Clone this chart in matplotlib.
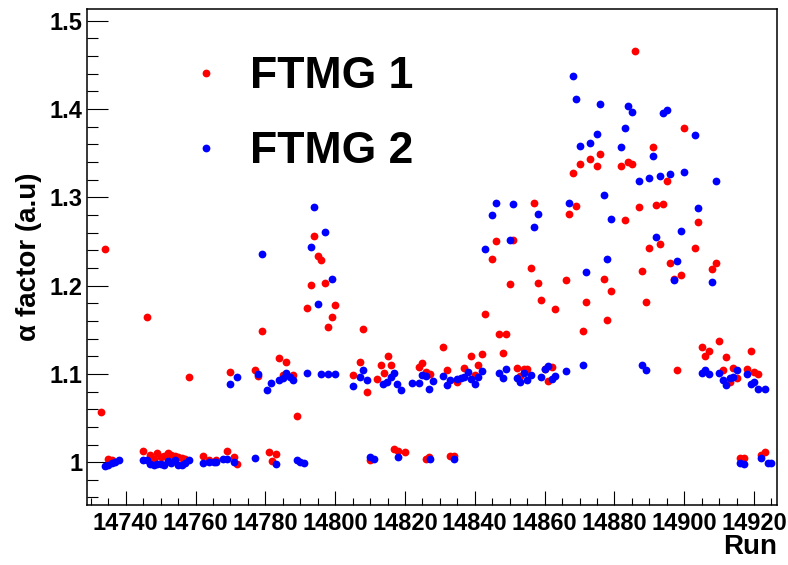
import matplotlib
matplotlib.use("Agg")
import matplotlib.pyplot as plt
from matplotlib.ticker import MultipleLocator, FormatStrFormatter, FuncFormatter

# ---- data ----
runs_ftmg1 = [14733, 14734, 14735, 14736, 14745, 14746, 14747, 14748, 14749, 14750,
              14751, 14752, 14753, 14754, 14755, 14756, 14757, 14758, 14762, 14764,
              14766, 14769, 14770, 14771, 14772, 14777, 14778, 14779, 14781, 14782,
              14783, 14784, 14785, 14786, 14788, 14789, 14792, 14793, 14794, 14795,
              14796, 14797, 14798, 14799, 14800, 14805, 14807, 14808, 14809, 14810,
              14812, 14813, 14814, 14815, 14816, 14817, 14818, 14820, 14824, 14825,
              14826, 14827.1, 14826.0, 14826.9, 14831, 14832, 14833, 14834, 14835, 14837,
              14839, 14840, 14841, 14842, 14843, 14845, 14846, 14847, 14848, 14849,
              14850, 14851, 14852, 14853, 14854, 14855, 14856, 14857, 14858, 14859,
              14860, 14861, 14862, 14863, 14866, 14867, 14868, 14869, 14870, 14871,
              14872, 14873, 14875, 14876, 14877, 14878, 14879, 14882, 14883, 14884,
              14885, 14886, 14887, 14888, 14889, 14890, 14891, 14892, 14893, 14894,
              14895, 14896, 14897, 14898, 14899, 14900, 14903, 14904, 14905, 14906,
              14907, 14908, 14909, 14910, 14911, 14912, 14913, 14914, 14915, 14916,
              14917, 14918, 14919, 14920, 14921, 14922, 14923]
alpha_ftmg1 = [1.057, 1.241, 1.004, 1.003, 1.013, 1.164, 1.008, 1.004, 1.010, 1.006,
               1.007, 1.010, 1.008, 1.007, 1.006, 1.005, 1.004, 1.096, 1.007, 1.003,
               1.003, 1.013, 1.102, 1.006, 0.998, 1.104, 1.098, 1.149, 1.012, 1.001,
               1.009, 1.118, 1.099, 1.113, 1.099, 1.052, 1.175, 1.201, 1.256, 1.234,
               1.229, 1.203, 1.153, 1.164, 1.178, 1.099, 1.113, 1.151, 1.079, 1.003,
               1.094, 1.110, 1.101, 1.120, 1.110, 1.015, 1.013, 1.011, 1.108, 1.112,
               1.102, 1.100, 1.004, 1.006, 1.131, 1.104, 1.007, 1.007, 1.091, 1.107,
               1.120, 1.099, 1.110, 1.123, 1.168, 1.230, 1.250, 1.145, 1.124, 1.145,
               1.202, 1.252, 1.107, 1.098, 1.106, 1.105, 1.220, 1.294, 1.203, 1.184,
               1.106, 1.092, 1.108, 1.174, 1.206, 1.281, 1.328, 1.290, 1.338, 1.149,
               1.182, 1.343, 1.336, 1.349, 1.208, 1.161, 1.194, 1.335, 1.274, 1.340,
               1.338, 1.466, 1.289, 1.217, 1.182, 1.243, 1.357, 1.291, 1.247, 1.292,
               1.318, 1.226, 1.208, 1.104, 1.212, 1.379, 1.243, 1.272, 1.130, 1.120,
               1.126, 1.219, 1.226, 1.137, 1.104, 1.119, 1.091, 1.107, 1.095, 1.005,
               1.005, 1.106, 1.126, 1.102, 1.100, 1.008, 1.012]

runs_ftmg2 = [14734, 14735, 14736, 14737, 14738, 14745, 14746, 14747, 14748, 14749,
              14750, 14751, 14752, 14753, 14754, 14755, 14756, 14757, 14758, 14762,
              14764, 14765.3, 14766, 14768, 14769, 14770, 14771, 14772, 14777, 14778,
              14779, 14780.5, 14781.6, 14783, 14784, 14785, 14786, 14787, 14788, 14789,
              14790, 14791, 14792, 14793, 14794, 14795, 14796, 14797, 14798, 14799,
              14800, 14805, 14807, 14808, 14809, 14810, 14811, 14813.8, 14814.8, 14816,
              14817, 14817.9, 14817.8, 14818.9, 14822, 14824, 14825, 14826, 14827, 14827.1,
              14828, 14831, 14832, 14833, 14834, 14835, 14836, 14837, 14838, 14839,
              14840, 14841, 14842, 14843, 14845, 14846, 14847, 14848, 14849, 14850,
              14851, 14852, 14853, 14854, 14855, 14856, 14857, 14858, 14859, 14860,
              14861, 14862, 14863, 14866, 14867, 14868, 14869, 14870, 14871, 14872,
              14873, 14875, 14876, 14877, 14878, 14879, 14882, 14883, 14884, 14885,
              14887, 14888, 14889, 14890, 14891, 14892, 14893, 14894, 14895, 14896,
              14897, 14898, 14899, 14900, 14903, 14904, 14905, 14906, 14907, 14908,
              14909, 14910, 14911, 14912, 14913, 14914, 14915, 14916, 14917, 14918,
              14919, 14920, 14921, 14922, 14923, 14924, 14925]
alpha_ftmg2 = [0.996, 0.997, 0.999, 1.000, 1.002, 1.003, 1.002, 0.998, 0.997, 0.998,
               0.998, 0.997, 1.001, 0.999, 1.002, 0.997, 0.997, 0.999, 1.003, 0.999,
               1.000, 1.000, 1.000, 1.004, 1.004, 1.089, 1.000, 1.097, 1.005, 1.100,
               1.236, 1.082, 1.090, 0.998, 1.093, 1.095, 1.101, 1.097, 1.093, 1.003,
               1.000, 0.999, 1.101, 1.244, 1.289, 1.179, 1.100, 1.261, 1.100, 1.207,
               1.100, 1.086, 1.097, 1.104, 1.093, 1.006, 1.004, 1.089, 1.091, 1.097,
               1.101, 1.006, 1.089, 1.082, 1.090, 1.090, 1.099, 1.098, 1.083, 1.004,
               1.092, 1.098, 1.087, 1.093, 1.004, 1.094, 1.095, 1.097, 1.102, 1.094,
               1.089, 1.097, 1.103, 1.242, 1.280, 1.294, 1.101, 1.095, 1.105, 1.252,
               1.292, 1.095, 1.091, 1.101, 1.093, 1.099, 1.266, 1.281, 1.096, 1.105,
               1.109, 1.094, 1.098, 1.103, 1.294, 1.437, 1.411, 1.358, 1.110, 1.215,
               1.362, 1.372, 1.406, 1.303, 1.230, 1.276, 1.357, 1.378, 1.403, 1.397,
               1.319, 1.110, 1.104, 1.322, 1.347, 1.255, 1.324, 1.396, 1.399, 1.326,
               1.206, 1.228, 1.262, 1.329, 1.371, 1.288, 1.101, 1.104, 1.100, 1.204,
               1.319, 1.101, 1.093, 1.087, 1.095, 1.096, 1.104, 0.999, 0.998, 1.100,
               1.089, 1.091, 1.083, 1.005, 1.083, 0.999, 0.999]

series_labels = ["FTMG 1", "FTMG 2"]
series_colors = ["#ff0000", "#0000ff"]
x_title = "Run"
y_title = "\u03b1 factor (a.u)"

# ---- figure ----
FONT = ["Liberation Sans", "DejaVu Sans"]
plt.rcParams["font.family"] = FONT

fig = plt.figure(figsize=(7.88, 5.65), dpi=100)
ax = fig.add_axes([0.1108, 0.1062, 0.8749, 0.8773])

h1, = ax.plot(runs_ftmg1, alpha_ftmg1, linestyle="none", marker="o", ms=5.6,
              mec="none", color=series_colors[0], label=series_labels[0])
h2, = ax.plot(runs_ftmg2, alpha_ftmg2, linestyle="none", marker="o", ms=5.6,
              mec="none", color=series_colors[1], label=series_labels[1])

ax.set_xlim(14729.0, 14926.5)
ax.set_ylim(0.9515, 1.513)

ax.xaxis.set_major_locator(MultipleLocator(20))
ax.xaxis.set_minor_locator(MultipleLocator(5))
ax.yaxis.set_major_locator(MultipleLocator(0.1))
ax.yaxis.set_minor_locator(MultipleLocator(0.02))
ax.xaxis.set_major_formatter(FormatStrFormatter("%d"))
ax.yaxis.set_major_formatter(FuncFormatter(lambda v, p: ("%g" % round(v, 3))))

ax.tick_params(axis="both", which="both", direction="in", top=False, right=False,
               width=0.8, color="black")
ax.tick_params(axis="y", which="major", length=15, pad=3.5)
ax.tick_params(axis="y", which="minor", length=8)
ax.tick_params(axis="x", which="major", length=10, pad=5)
ax.tick_params(axis="x", which="minor", length=5)
for lab in ax.get_xticklabels() + ax.get_yticklabels():
    lab.set_fontsize(17)
    lab.set_fontweight("bold")

for side in ["left", "bottom", "top", "right"]:
    ax.spines[side].set_linewidth(1.1)
    ax.spines[side].set_color("black")

ax.set_xlabel(x_title, fontsize=20, fontweight="bold", ha="right")
ax.xaxis.set_label_coords(1.0, -0.058)
ax.set_ylabel(y_title, fontsize=20, fontweight="bold")
ax.yaxis.set_label_coords(-0.066, 0.5)

leg = ax.legend(handles=[h1, h2], loc="upper left", bbox_to_anchor=(0.1564, 0.905),
                frameon=False, borderpad=0, borderaxespad=0, handlelength=0.5,
                handletextpad=0.74, labelspacing=0.76,
                prop={"family": FONT, "weight": "bold", "size": 32})

fig.savefig("out.png", dpi=100)
